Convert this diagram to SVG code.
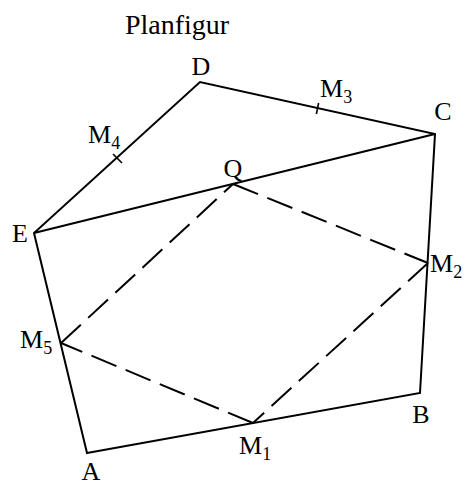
<svg xmlns="http://www.w3.org/2000/svg" width="465" height="485" viewBox="0 0 465 485">
<style>
.s{stroke:#000;stroke-width:2;fill:none;stroke-linecap:butt;stroke-linejoin:miter}
.d{stroke:#000;stroke-width:2;fill:none;stroke-dasharray:27 10}
.t{stroke:#000;stroke-width:1.6}
text{font-family:"Liberation Serif","Times New Roman",serif;fill:#000}
.l{font-size:26px}
.sub{font-size:18px}
</style>
<rect width="465" height="485" fill="#fff"/>
<text x="177" y="34" font-size="28" text-anchor="middle">Planfigur</text>
<g id="connectors">
<polygon class="s" points="87,453 420,393 435,134 200,82 34,233"/>
<line class="s" x1="34" y1="233" x2="435" y2="134"/>
<line class="d" x1="61" y1="343" x2="233" y2="184"/>
<line class="d" x1="233" y1="184" x2="428" y2="263"/>
<line class="d" x1="428" y1="263" x2="253" y2="423"/>
<line class="d" x1="253" y1="423" x2="61" y2="343"/>
<line class="t" x1="113" y1="154" x2="122" y2="163"/>
<line class="t" x1="318.6" y1="103" x2="316.4" y2="114"/>
</g>
<g id="A"><text class="l" x="91" y="480" text-anchor="middle">A</text></g>
<g id="B"><text class="l" x="421" y="423" text-anchor="middle">B</text></g>
<g id="C"><text class="l" x="443" y="120" text-anchor="middle">C</text></g>
<g id="D"><text class="l" x="201" y="75" text-anchor="middle">D</text></g>
<g id="E"><text class="l" x="20" y="242" text-anchor="middle">E</text></g>
<g id="Q"><text class="l" x="233" y="177" text-anchor="middle">Q</text></g>
<g id="M1"><text class="l" x="239" y="454">M<tspan class="sub" dy="6">1</tspan></text></g>
<g id="M2"><text class="l" x="430" y="272">M<tspan class="sub" dy="6">2</tspan></text></g>
<g id="M3"><text class="l" x="320" y="97">M<tspan class="sub" dy="6">3</tspan></text></g>
<g id="M4"><text class="l" x="88" y="143">M<tspan class="sub" dy="6">4</tspan></text></g>
<g id="M5"><text class="l" x="20" y="348">M<tspan class="sub" dy="6">5</tspan></text></g>
</svg>
